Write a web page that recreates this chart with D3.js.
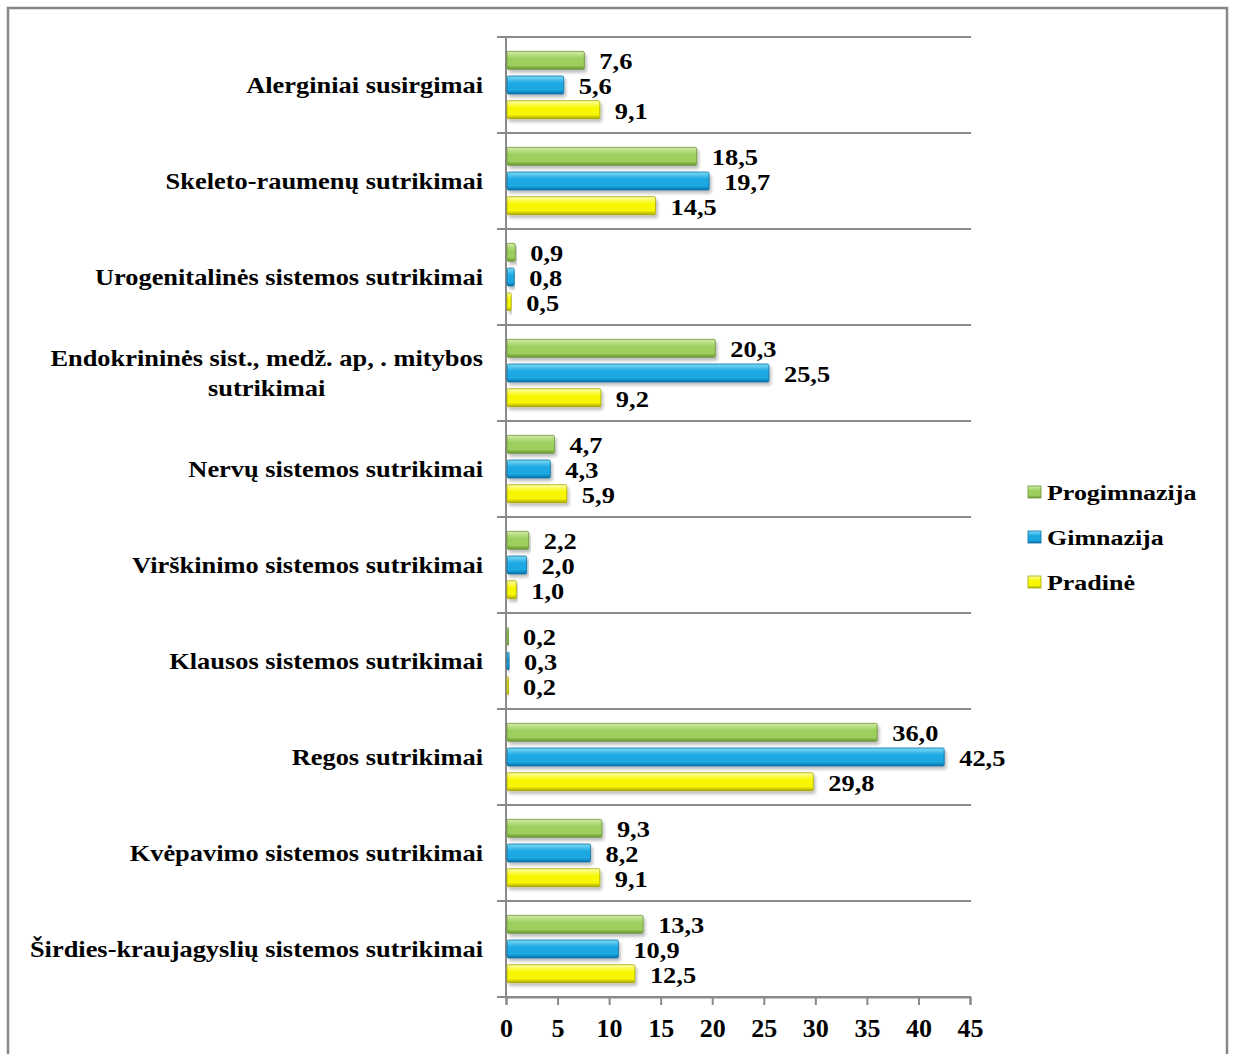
<!DOCTYPE html>
<html lang="lt">
<head>
  <meta charset="UTF-8">
  <title>Sutrikimai pagal mokyklos tipą</title>
  <script src="https://cdn.jsdelivr.net/npm/d3@7.8.5/dist/d3.min.js"></script>
  <style>
    body { margin: 0; background: #fff; }
    svg text { font-family: "Liberation Serif", "Times New Roman", serif; font-weight: bold; fill: #000; }
  </style>
</head>
<body>
  <svg id="chart" width="1233" height="1054"></svg>
  <script>
    // categories top to bottom
    const categories = [
      "Alerginiai susirgimai",
      "Skeleto-raumenų sutrikimai",
      "Urogenitalinės sistemos sutrikimai",
      "Endokrininės sist., medž. ap, . mitybos|sutrikimai",
      "Nervų sistemos sutrikimai",
      "Virškinimo sistemos sutrikimai",
      "Klausos sistemos sutrikimai",
      "Regos sutrikimai",
      "Kvėpavimo sistemos sutrikimai",
      "Širdies-kraujagyslių sistemos sutrikimai"
    ];
    const seriesNames = ["Progimnazija", "Gimnazija", "Pradinė"];
    const progimnazija = [7.6, 18.5, 0.9, 20.3, 4.7, 2.2, 0.2, 36.0, 9.3, 13.3];
    const gimnazija    = [5.6, 19.7, 0.8, 25.5, 4.3, 2.0, 0.3, 42.5, 8.2, 10.9];
    const pradine      = [9.1, 14.5, 0.5, 9.2, 5.9, 1.0, 0.2, 29.8, 9.1, 12.5];
    const xTicks = [0, 5, 10, 15, 20, 25, 30, 35, 40, 45];

    const seriesValues = [progimnazija, gimnazija, pradine];
    const colors = [
      ["#d2eda9", "#9ccf5c", "#6a9436"],
      ["#7fdcf8", "#1ba8e1", "#0b6ea3"],
      ["#ffffa8", "#f7f700", "#a8a800"]
    ];

    const svg = d3.select("#chart");
    const fmt = v => v.toFixed(1).replace(".", ",");

    // outer frame
    svg.append("rect").attr("x", 8).attr("y", 8).attr("width", 1219).attr("height", 1070)
      .attr("fill", "none").attr("stroke", "#878787").attr("stroke-width", 2.5);

    const defs = svg.append("defs");
    colors.forEach((c, i) => {
      const g = defs.append("linearGradient").attr("id", "grad" + i)
        .attr("x1", 0).attr("y1", 0).attr("x2", 0).attr("y2", 1);
      g.append("stop").attr("offset", "0%").attr("stop-color", c[0]);
      g.append("stop").attr("offset", "40%").attr("stop-color", c[1]);
      g.append("stop").attr("offset", "78%").attr("stop-color", c[1]);
      g.append("stop").attr("offset", "100%").attr("stop-color", c[2]);
    });
    const sh = defs.append("filter").attr("id", "shadow")
      .attr("x", "-5%").attr("y", "-30%").attr("width", "115%").attr("height", "180%");
    sh.append("feGaussianBlur").attr("in", "SourceAlpha").attr("stdDeviation", 1.5).attr("result", "b");
    sh.append("feOffset").attr("dx", 2).attr("dy", 3).attr("result", "o");
    sh.append("feComponentTransfer").append("feFuncA").attr("type", "linear").attr("slope", 0.25);
    const mg = sh.append("feMerge");
    mg.append("feMergeNode");
    mg.append("feMergeNode").attr("in", "SourceGraphic");

    const x = d3.scaleLinear().domain([0, 45]).range([506, 970]);
    const y = d3.scaleBand().domain(categories).range([37, 997]);
    const yInner = d3.scaleBand().domain(seriesNames).range([11, 85]);
    const barH = 18;

    // horizontal separators (category ticks)
    svg.append("g").selectAll("line")
      .data(categories.concat(["__end"]))
      .join("line")
      .attr("x1", 497).attr("x2", 971)
      .attr("y1", (d, i) => i < categories.length ? y(d) : y.range()[1])
      .attr("y2", (d, i) => i < categories.length ? y(d) : y.range()[1])
      .attr("stroke", "#8a8a8a").attr("stroke-width", 2);

    // value axis
    const axis = svg.append("g").attr("transform", "translate(0,997)")
      .call(d3.axisBottom(x).tickValues(xTicks).tickSize(8).tickPadding(14).tickFormat(d => d));
    axis.select(".domain").attr("stroke", "#8a8a8a").attr("stroke-width", 2);
    axis.selectAll(".tick line").attr("stroke", "#8a8a8a").attr("stroke-width", 2);
    axis.selectAll("text").attr("font-size", 26).attr("fill", "#000")
      .style("font-family", "'Liberation Serif', serif").style("font-weight", "bold");

    svg.append("line").attr("x1", 506).attr("x2", 506).attr("y1", 37).attr("y2", 997)
      .attr("stroke", "#8a8a8a").attr("stroke-width", 2);

    // bars
    const barData = [];
    categories.forEach((c, ci) => {
      seriesValues.forEach((vals, si) => {
        barData.push({ cat: c, s: seriesNames[si], si, v: vals[ci] });
      });
    });
    const cy = d => y(d.cat) + yInner(d.s) + yInner.bandwidth() / 2;

    svg.append("g").selectAll("rect")
      .data(barData)
      .join("rect")
      .attr("x", x(0) + 1)
      .attr("y", d => cy(d) - barH / 2)
      .attr("width", d => Math.max(1.5, x(d.v) - x(0) - 1))
      .attr("height", barH)
      .attr("rx", 1.5)
      .attr("fill", d => `url(#grad${d.si})`)
      .attr("stroke", d => colors[d.si][2]).attr("stroke-width", 0.8)
      .attr("filter", "url(#shadow)");

    svg.append("g").selectAll("text")
      .data(barData)
      .join("text")
      .attr("transform", d => `translate(${x(d.v) + 15},${cy(d) + 9}) scale(1.1,1)`)
      .attr("font-size", 24)
      .text(d => fmt(d.v));

    // category labels
    const labels = svg.append("g");
    categories.forEach(c => {
      const lines = c.split("|");
      const mid = y(c) + y.bandwidth() / 2;
      const lh = 30;
      const g = labels.append("g")
        .attr("transform", `translate(483,${mid + 8 - (lines.length - 1) * lh / 2}) scale(1.1,1)`);
      const first = g.append("text").attr("font-size", 24).attr("text-anchor", "end").text(lines[0]);
      const w = first.node().getComputedTextLength();
      lines.slice(1).forEach((l, i) => {
        g.append("text").attr("font-size", 24).attr("text-anchor", "middle")
          .attr("x", -w / 2).attr("y", (i + 1) * lh).text(l);
      });
    });

    // legend
    const legend = svg.append("g");
    seriesNames.forEach((n, i) => {
      const ly = 492 + i * 45;
      legend.append("rect").attr("x", 1028).attr("y", ly - 6).attr("width", 13).attr("height", 12)
        .attr("fill", `url(#grad${i})`).attr("stroke", colors[i][2]).attr("stroke-width", 0.8);
      legend.append("text").attr("transform", `translate(1047,${ly + 8}) scale(1.18,1)`)
        .attr("font-size", 22).text(n);
    });
  </script>
</body>
</html>
